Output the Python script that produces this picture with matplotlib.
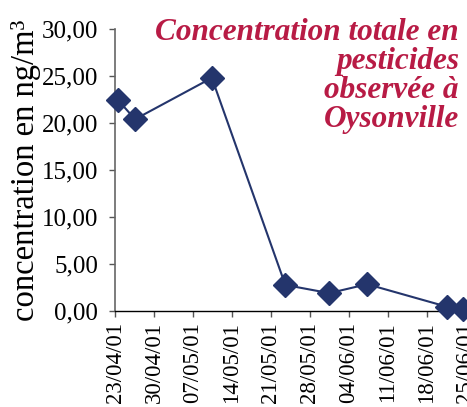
import matplotlib
matplotlib.use("Agg")
import matplotlib.pyplot as plt

# Data: days since 23/04/01 and total pesticide concentration (ng/m3)
day_offsets = [0.6, 3.6, 17.4, 30.6, 38.5, 45.3, 59.6, 62.5]
concentrations = [22.4, 20.4, 24.8, 2.77, 1.9, 2.85, 0.46, 0.18]

tick_days = [0, 7, 14, 21, 28, 35, 42, 49, 56, 63]
tick_labels = ["23/04/01", "30/04/01", "07/05/01", "14/05/01", "21/05/01",
               "28/05/01", "04/06/01", "11/06/01", "18/06/01", "25/06/01"]
y_ticks = [0, 5, 10, 15, 20, 25, 30]
y_tick_labels = ["0,00", "5,00", "10,00", "15,00", "20,00", "25,00", "30,00"]

W, H = 467, 407
fig = plt.figure(figsize=(W / 100, H / 100), dpi=100)
ax = fig.add_axes([115 / W, (H - 311) / H, (480 - 115) / W, (311 - 29) / H])

navy = "#24356c"
ax.plot(day_offsets, concentrations, color=navy, lw=1.5, marker="D",
        markersize=12, markerfacecolor=navy, markeredgecolor=navy, clip_on=False, zorder=3)

ax.set_xlim(0, (480 - 115) / 5.566)
ax.set_ylim(0, 30)

serif = "Liberation Serif"
ax.set_yticks(y_ticks)
ax.set_yticklabels(y_tick_labels, fontfamily=serif, fontsize=18)
ax.set_xticks(tick_days)
ax.set_xticklabels(tick_labels, fontfamily=serif, fontsize=16.5, rotation=90)

ax.tick_params(axis="y", direction="out", length=4, width=1, color="#555555", pad=8)
ax.tick_params(axis="x", direction="out", length=4, width=1, color="#555555", pad=4)

for s in ["top", "right"]:
    ax.spines[s].set_visible(False)
ax.spines["left"].set_color("#666666")
ax.spines["left"].set_linewidth(1.2)
ax.spines["bottom"].set_color("#000000")
ax.spines["bottom"].set_linewidth(1.0)

ax.set_ylabel("concentration en ng/m³", fontfamily=serif, fontsize=23.5, labelpad=1)

fig.text(459 / W, 1 - 18 / H, "Concentration totale en\npesticides\nobservée à\nOysonville",
         ha="right", va="top", multialignment="right", fontfamily=serif,
         fontsize=22.5, fontweight="bold", fontstyle="italic", color="#b81b45",
         linespacing=1.0)

fig.savefig("out.png", dpi=100)
